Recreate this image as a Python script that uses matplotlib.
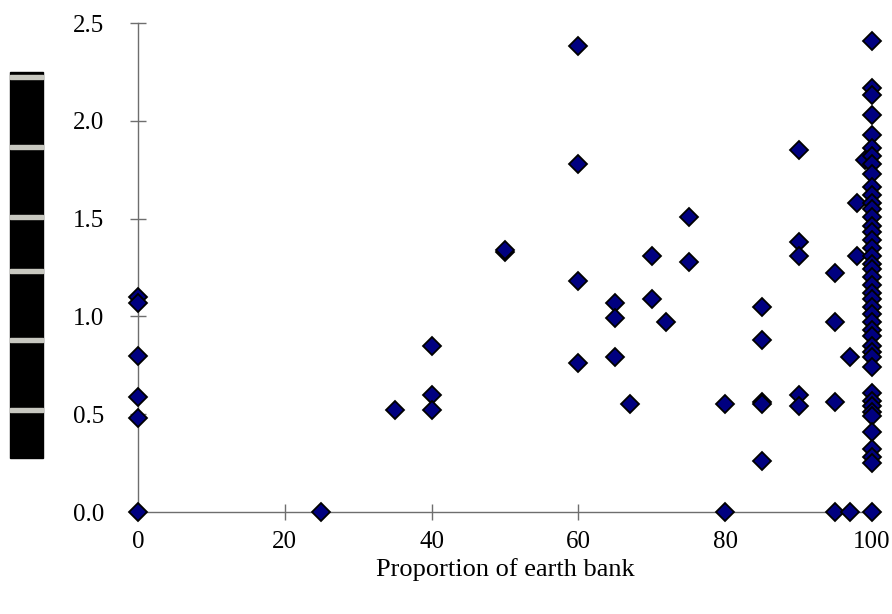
import numpy as np
import matplotlib
matplotlib.use('Agg')
import matplotlib.pyplot as plt
from matplotlib.patches import Rectangle

plt.rcParams['font.family'] = ['Liberation Serif', 'DejaVu Serif']

# Survey points: proportion of earth bank (%) against measured value
earth_bank = (
    [0] * 6 + [25] + [35] + [40] * 3 + [50] * 2 + [60] * 4 + [65] * 3 + [67]
    + [70] * 2 + [72] + [75] * 2 + [80] * 2 + [85] * 5 + [90] * 5 + [95] * 4
    + [97] * 2 + [98] * 2 + [99] + [100] * 44
)
values = [
    1.10, 1.07, 0.80, 0.59, 0.48, 0.00,          # 0
    0.00,                                        # 25
    0.52,                                        # 35
    0.85, 0.60, 0.52,                            # 40
    1.33, 1.34,                                  # 50
    2.38, 1.78, 1.18, 0.76,                      # 60
    1.07, 0.99, 0.79,                            # 65
    0.55,                                        # 67
    1.31, 1.09,                                  # 70
    0.97,                                        # 72
    1.51, 1.28,                                  # 75
    0.55, 0.00,                                  # 80
    1.05, 0.88, 0.56, 0.55, 0.26,                # 85
    1.85, 1.38, 1.31, 0.60, 0.54,                # 90
    1.22, 0.97, 0.56, 0.00,                      # 95
    0.79, 0.00,                                  # 97
    1.58, 1.31,                                  # 98
    1.80,                                        # 99
    2.41, 2.17, 2.13, 2.03, 1.93, 1.86, 1.82, 1.78, 1.73, 1.66,
    1.62, 1.58, 1.55, 1.51, 1.46, 1.43, 1.39, 1.35, 1.31, 1.27,
    1.24, 1.20, 1.16, 1.12, 1.09, 1.05, 1.01, 0.97, 0.93, 0.90,
    0.85, 0.82, 0.79, 0.74, 0.61, 0.57, 0.54, 0.51, 0.49, 0.41,
    0.32, 0.28, 0.25, 0.00,                      # 100
]

xticks = [0, 20, 40, 60, 80, 100]
yticks = [0.0, 0.5, 1.0, 1.5, 2.0, 2.5]

fig = plt.figure(figsize=(8.92, 6.14), dpi=100)
ax = fig.add_axes([0.1547, 0.1661, 0.8229, 0.7964])

ax.plot(earth_bank, values, linestyle='none', marker='D', markersize=9.5,
        markerfacecolor='#000080', markeredgecolor='black',
        markeredgewidth=1.3, clip_on=False, zorder=3)

ax.set_xlim(0, 100)
ax.set_ylim(0, 2.5)
ax.set_xticks(xticks)
ax.set_yticks(yticks)
ax.set_yticklabels([f'{t:.1f}' for t in yticks])

for side in ('top', 'right'):
    ax.spines[side].set_visible(False)
for side in ('left', 'bottom'):
    ax.spines[side].set_color('#6e6e6e')
    ax.spines[side].set_linewidth(1.0)

ax.tick_params(axis='both', direction='inout', length=11, width=1.0,
               color='#6e6e6e', labelsize=18, labelcolor='black')
ax.tick_params(axis='y', pad=19)
ax.tick_params(axis='x', pad=8)

ax.set_xlabel('Proportion of earth bank', fontsize=19, labelpad=4)

# Black bar with light stripes at the left edge
fig.patches.append(Rectangle((10 / 892, 1 - 458 / 614), 33 / 892, 386 / 614,
                             transform=fig.transFigure, color='black',
                             zorder=0))
for ys in [77, 147, 217, 271, 340, 410]:
    fig.patches.append(Rectangle((10 / 892, 1 - (ys + 2) / 614), 33 / 892,
                                 4 / 614, transform=fig.transFigure,
                                 color='#c8c8c0', zorder=1))

plt.savefig('out.png', dpi=100)
